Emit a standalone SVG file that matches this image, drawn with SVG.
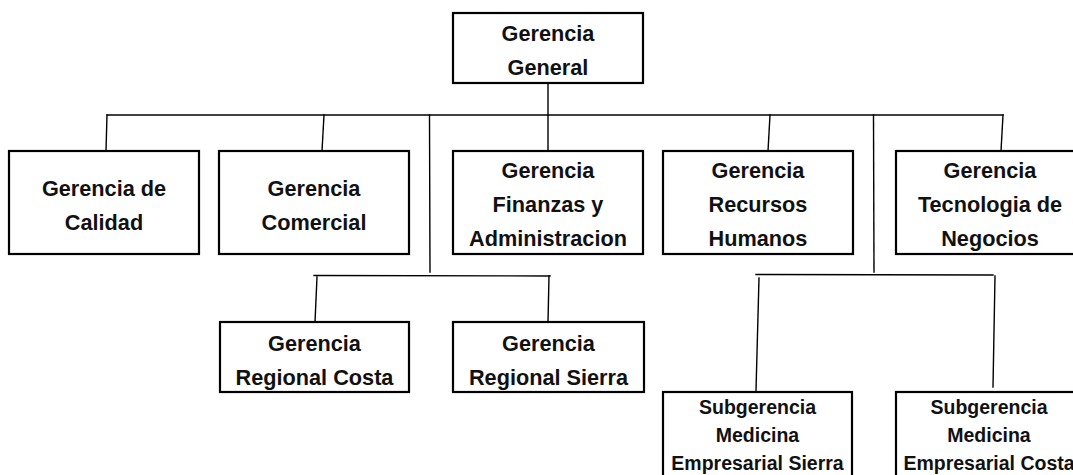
<svg xmlns="http://www.w3.org/2000/svg" width="1073" height="475" viewBox="0 0 1073 475">
  <style>
    .box { fill: #ffffff; stroke: #000000; stroke-width: 2.2; }
    .lbl { font-family: "Liberation Sans", Arial, sans-serif; font-weight: bold; font-size: 21.7px; fill: #111111; text-anchor: middle; }
    .lbl-sm { font-family: "Liberation Sans", Arial, sans-serif; font-weight: bold; font-size: 19.5px; fill: #111111; text-anchor: middle; }
    .wire { fill: none; stroke: #000000; stroke-width: 1.4; stroke-linecap: square; }
  </style>
  <rect width="1073" height="475" fill="#ffffff"/>

  <!-- connectors -->
  <g id="connectors">
    <line class="wire" x1="548" y1="83" x2="548" y2="151"/>
    <line class="wire" x1="107" y1="115" x2="1003" y2="115"/>
    <line class="wire" x1="107" y1="115" x2="106" y2="151"/>
    <line class="wire" x1="324" y1="115" x2="322" y2="151"/>
    <line class="wire" x1="429.5" y1="115" x2="430" y2="272"/>
    <line class="wire" x1="770" y1="115" x2="768" y2="151"/>
    <line class="wire" x1="873.5" y1="115" x2="874" y2="272"/>
    <line class="wire" x1="1003" y1="115" x2="1001" y2="151"/>
    <line class="wire" x1="314" y1="275.5" x2="550" y2="276"/>
    <line class="wire" x1="317" y1="277" x2="315" y2="322"/>
    <line class="wire" x1="549" y1="276" x2="548" y2="322"/>
    <line class="wire" x1="756" y1="274.5" x2="993" y2="275"/>
    <line class="wire" x1="759" y1="278" x2="756" y2="391"/>
    <line class="wire" x1="995" y1="276" x2="993" y2="387"/>
  </g>

  <g id="gerencia-general">
    <rect class="box" x="453" y="13" width="190" height="70"/>
    <text class="lbl" x="548" y="41">Gerencia</text>
    <text class="lbl" x="548" y="75">General</text>
  </g>

  <g id="gerencia-calidad">
    <rect class="box" x="9" y="151" width="190" height="103"/>
    <text class="lbl" x="104" y="196">Gerencia de</text>
    <text class="lbl" x="104" y="230">Calidad</text>
  </g>

  <g id="gerencia-comercial">
    <rect class="box" x="219" y="151" width="190" height="103"/>
    <text class="lbl" x="314" y="196">Gerencia</text>
    <text class="lbl" x="314" y="230">Comercial</text>
  </g>

  <g id="gerencia-finanzas">
    <rect class="box" x="453" y="151" width="190" height="103"/>
    <text class="lbl" x="548" y="178">Gerencia</text>
    <text class="lbl" x="548" y="212">Finanzas y</text>
    <text class="lbl" x="548" y="246">Administracion</text>
  </g>

  <g id="gerencia-rrhh">
    <rect class="box" x="663" y="151" width="190" height="103"/>
    <text class="lbl" x="758" y="178">Gerencia</text>
    <text class="lbl" x="758" y="212">Recursos</text>
    <text class="lbl" x="758" y="246">Humanos</text>
  </g>

  <g id="gerencia-tecnologia">
    <rect class="box" x="896" y="151" width="190" height="103"/>
    <text class="lbl" x="990" y="178">Gerencia</text>
    <text class="lbl" x="990" y="212">Tecnologia de</text>
    <text class="lbl" x="990" y="246">Negocios</text>
  </g>

  <g id="gerencia-regional-costa">
    <rect class="box" x="220" y="322" width="189" height="70"/>
    <text class="lbl" x="314.5" y="350.5">Gerencia</text>
    <text class="lbl" x="314.5" y="385">Regional Costa</text>
  </g>

  <g id="gerencia-regional-sierra">
    <rect class="box" x="453" y="322" width="191" height="70"/>
    <text class="lbl" x="548.5" y="350.5">Gerencia</text>
    <text class="lbl" x="548.5" y="385">Regional Sierra</text>
  </g>

  <g id="subgerencia-sierra">
    <rect class="box" x="663" y="392" width="189" height="100"/>
    <text class="lbl-sm" x="757.5" y="414">Subgerencia</text>
    <text class="lbl-sm" x="757.5" y="442">Medicina</text>
    <text class="lbl-sm" x="757.5" y="470">Empresarial Sierra</text>
  </g>

  <g id="subgerencia-costa">
    <rect class="box" x="896" y="392" width="190" height="100"/>
    <text class="lbl-sm" x="989" y="414">Subgerencia</text>
    <text class="lbl-sm" x="989" y="442">Medicina</text>
    <text class="lbl-sm" x="989" y="470">Empresarial Costa</text>
  </g>
</svg>
